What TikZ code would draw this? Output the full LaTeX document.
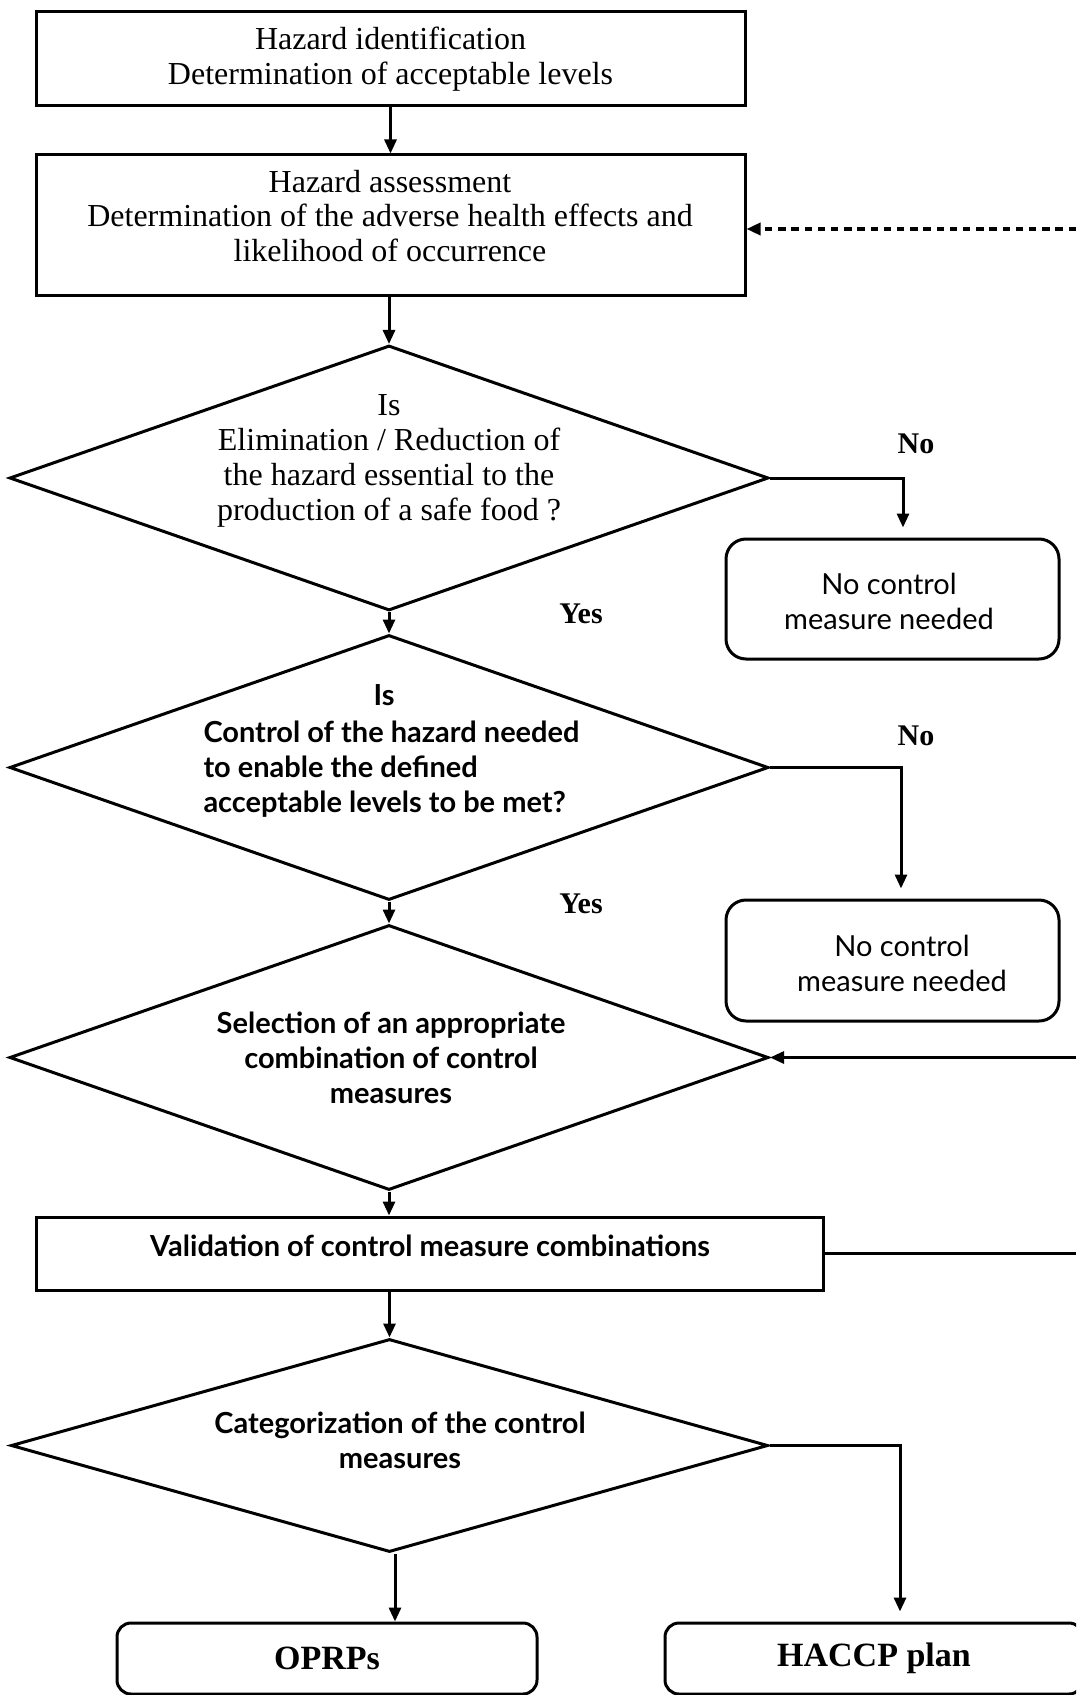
\documentclass[tikz,border=0pt]{standalone}
\usepackage{fontspec}
\setmainfont{Liberation Serif}
\newfontfamily\flowsans{Lato}
\usetikzlibrary{shapes.geometric,arrows.meta}

\begin{document}
\begin{tikzpicture}[x=0.5pt,y=-0.5pt,
  line width=1.5pt,
  >={Triangle[length=7pt,width=6pt]},
  frame/.style={draw,rectangle,inner sep=0pt},
  rframe/.style={frame,rounded corners=10pt},
  decision/.style={draw,diamond,inner sep=0pt},
  serif/.style={font=\fontsize{16}{17.4}\selectfont,align=center,inner sep=0pt},
  sanstxt/.style={font=\flowsans\bfseries\fontsize{14.5}{17.4}\selectfont,align=center,inner sep=0pt},
  plainsans/.style={font=\flowsans\fontsize{14.5}{17.4}\selectfont,align=center,inner sep=0pt},
  answer/.style={font=\bfseries\fontsize{15}{17}\selectfont,inner sep=0pt},
  result/.style={font=\bfseries\fontsize{17}{19}\selectfont},
  feedback/.style={dash pattern=on 3.7pt off 2.9pt,line width=1.7pt},
  gapped/.style={shorten >=5pt}
]
\clip (0,0) rectangle (1076,1695);
\fill[white] (0,0) rectangle (1076,1695);

% main column
\node[frame,serif,minimum width=354.5pt,minimum height=47pt] (hid) at (390.5,59)
  {Hazard identification\\Determination of acceptable levels};
\node[frame,minimum width=354.5pt,minimum height=70.5pt] (ha) at (390.5,225.5) {};
\node[serif] (hat) at (390,216)
  {Hazard assessment\\Determination of the adverse health effects and\\likelihood of occurrence};

\node[decision,minimum width=379.5pt,minimum height=132.5pt] (d1) at (389,478) {};
\node[serif] (d1t) at (389,461)
  {Is\\Elimination / Reduction of\\the hazard essential to the\\production of a safe food ?};

\node[decision,minimum width=379.5pt,minimum height=132.5pt] (d2) at (389,767.5) {};
\node[sanstxt] (d2is) at (384,695) {Is};
\node[sanstxt,align=left,anchor=west] (d2t) at (202,769)
  {Control of the hazard needed\\to enable the defined\\acceptable levels to be met?};

\node[decision,minimum width=379.5pt,minimum height=132.5pt] (d3) at (389,1057.5) {};
\node[sanstxt] (d3t) at (391,1058)
  {Selection of an appropriate\\combination of control\\measures};

\node[frame,minimum width=393.5pt,minimum height=36.5pt] (val) at (429.5,1253.5) {};
\node[sanstxt] (valt) at (430,1246) {Validation of control measure combinations};

\node[decision,minimum width=378.5pt,minimum height=106.5pt] (d4) at (389.5,1445.5) {};
\node[sanstxt] (d4t) at (400,1440) {Categorization of the control\\measures};

% side outcomes
\node[rframe,minimum width=166.5pt,minimum height=60pt] (nb1) at (892.5,599) {};
\node[plainsans] (nb1t) at (889,601.5) {No control\\measure needed};
\node[rframe,minimum width=166.5pt,minimum height=60.5pt] (nb2) at (892.5,960.5) {};
\node[plainsans] (nb2t) at (902,963.5) {No control\\measure needed};

\node[rframe,result,rounded corners=7pt,minimum width=210pt,minimum height=35.5pt] (oprp) at (327,1658.5) {OPRPs};
\node[rframe,result,rounded corners=7pt,minimum width=209pt,minimum height=35.5pt] (haccp) at (874,1658.5) {HACCP plan};

% answers
\node[answer] (no1) at (916,444) {No};
\node[answer] (yes1) at (581,614) {Yes};
\node[answer] (no2) at (916,736) {No};
\node[answer] (yes2) at (581,904) {Yes};

% links off the right edge
\coordinate (fbk) at (1076,229);
\coordinate (rin) at (1076,1057.5);
\coordinate (rout) at (1076,1253.5);

% connectors
\draw[->] (hid.south) -- (hid.south |- ha.north);
\draw[->] (d1.north |- ha.south) -- (d1.north);
\draw[->] (d1.south) -- (d2.north);
\draw[->] (d2.south) -- (d3.north);
\draw[->] (d3.south) -- (d3.south |- val.north);
\draw[->] (d4.north |- val.south) -- (d4.north);
\draw[->] (d4.south) ++(5.5,0) -- ([xshift=2.75pt]d4.south |- oprp.north);
\draw[->,gapped] (d1.east) -| ([xshift=5.25pt]nb1.north);
\draw[->,gapped] (d2.east) -| ([xshift=4.25pt]nb2.north);
\draw[->,gapped] (d4.east) -| ([xshift=13pt]haccp.north);
\draw[->,feedback] (fbk) -- (ha.east |- fbk);
\draw[->] (rin) -- (d3.east);
\draw (val.east) -- (rout);
\end{tikzpicture}
\end{document}
